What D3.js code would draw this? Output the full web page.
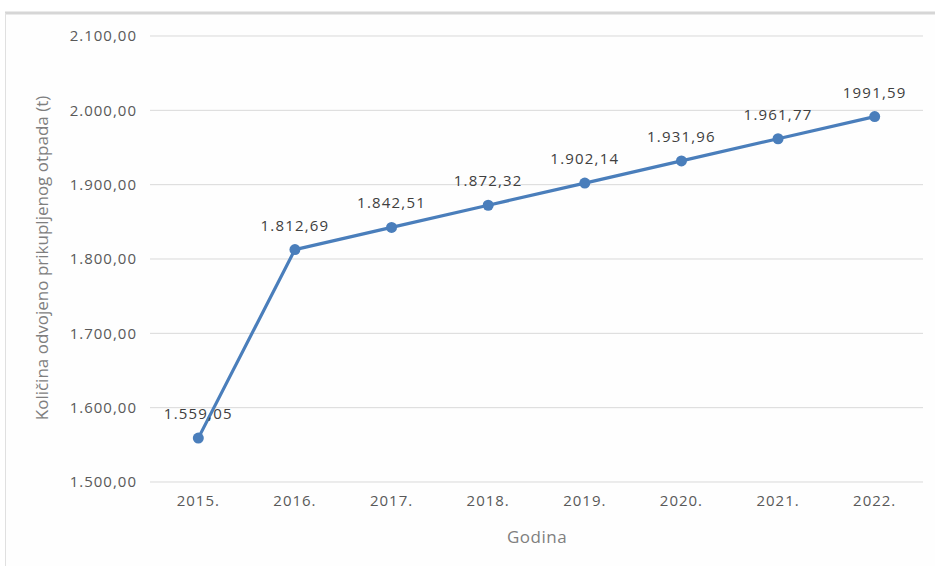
<!DOCTYPE html>
<html><head><meta charset="utf-8">
<script src="https://cdn.jsdelivr.net/npm/d3@7"></script>
<style>body{margin:0;background:#fff}svg{display:block}</style>
</head><body>
<svg id="c" width="935" height="566"></svg>
<script>
const years = ["2015.","2016.","2017.","2018.","2019.","2020.","2021.","2022."];
const values = [1559.05,1812.69,1842.51,1872.32,1902.14,1931.96,1961.77,1991.59];
const valueLabels = ["1.559,05","1.812,69","1.842,51","1.872,32","1.902,14","1.931,96","1.961,77","1991,59"];
const yTicks = [1500,1600,1700,1800,1900,2000,2100];
const yTickLabels = ["1.500,00","1.600,00","1.700,00","1.800,00","1.900,00","2.000,00","2.100,00"];

const svg = d3.select("#c");
const font = "'Open Sans', sans-serif";
// frame
svg.append("rect").attr("x",5).attr("y",13).attr("width",930).attr("height",553).attr("fill","#fefefe");
svg.append("line").attr("x1",5).attr("x2",935).attr("y1",13).attr("y2",13).attr("stroke","#d6d6d6").attr("stroke-width",3);
svg.append("line").attr("x1",5.5).attr("x2",5.5).attr("y1",13).attr("y2",566).attr("stroke","#e0e0e0").attr("stroke-width",1);

const x = d3.scaleBand().domain(years).range([150,923]);
const y = d3.scaleLinear().domain([1500,2100]).range([482,36]);

// gridlines
svg.append("g").selectAll("line").data(yTicks).join("line")
  .attr("x1",150).attr("x2",923).attr("y1",d=>y(d)).attr("y2",d=>y(d))
  .attr("stroke","#d9d9d9").attr("stroke-width",1);

// y axis labels
const yAxis = d3.axisLeft(y).tickValues(yTicks).tickSize(0).tickPadding(13)
  .tickFormat(d=>yTickLabels[yTicks.indexOf(d)]);
const gy = svg.append("g").attr("transform","translate(150,0)").call(yAxis);
gy.select(".domain").remove();
gy.selectAll("text").attr("font-family",font).attr("font-size",15).attr("letter-spacing","1px").attr("fill","#595959");

// x axis labels
const xAxis = d3.axisBottom(x).tickSize(0).tickPadding(14);
const gx = svg.append("g").attr("transform","translate(0,490)").call(xAxis);
gx.select(".domain").remove();
gx.selectAll("text").attr("font-family",font).attr("font-size",15).attr("letter-spacing","1px").attr("fill","#595959").attr("dy","0.1em");

// line
const line = d3.line().x((d,i)=>x(years[i])+x.bandwidth()/2).y(d=>y(d));
svg.append("path").datum(values).attr("d",line).attr("fill","none")
  .attr("stroke","#4a7ebb").attr("stroke-width",3.2).attr("stroke-linejoin","round");
svg.append("g").selectAll("circle").data(values).join("circle")
  .attr("cx",(d,i)=>x(years[i])+x.bandwidth()/2).attr("cy",d=>y(d)).attr("r",5.5)
  .attr("fill","#4a7ebb");

// data labels
svg.append("g").selectAll("text").data(values).join("text")
  .attr("x",(d,i)=>x(years[i])+x.bandwidth()/2).attr("y",d=>y(d)-19)
  .attr("text-anchor","middle").attr("font-family",font).attr("font-size",15)
  .attr("letter-spacing","1.2px")
  .attr("fill","#404040").text((d,i)=>valueLabels[i]);

// axis titles
svg.append("text").attr("x",537).attr("y",543).attr("text-anchor","middle")
  .attr("font-family",font).attr("font-size",17).attr("letter-spacing","0.5px").attr("fill","#7f7f7f").text("Godina");
svg.append("text").attr("transform","translate(48,258) rotate(-90)").attr("text-anchor","middle")
  .attr("font-family",font).attr("font-size",17).attr("fill","#7f7f7f")
  .text("Količina odvojeno prikupljenog otpada (t)");
</script>
</body></html>
